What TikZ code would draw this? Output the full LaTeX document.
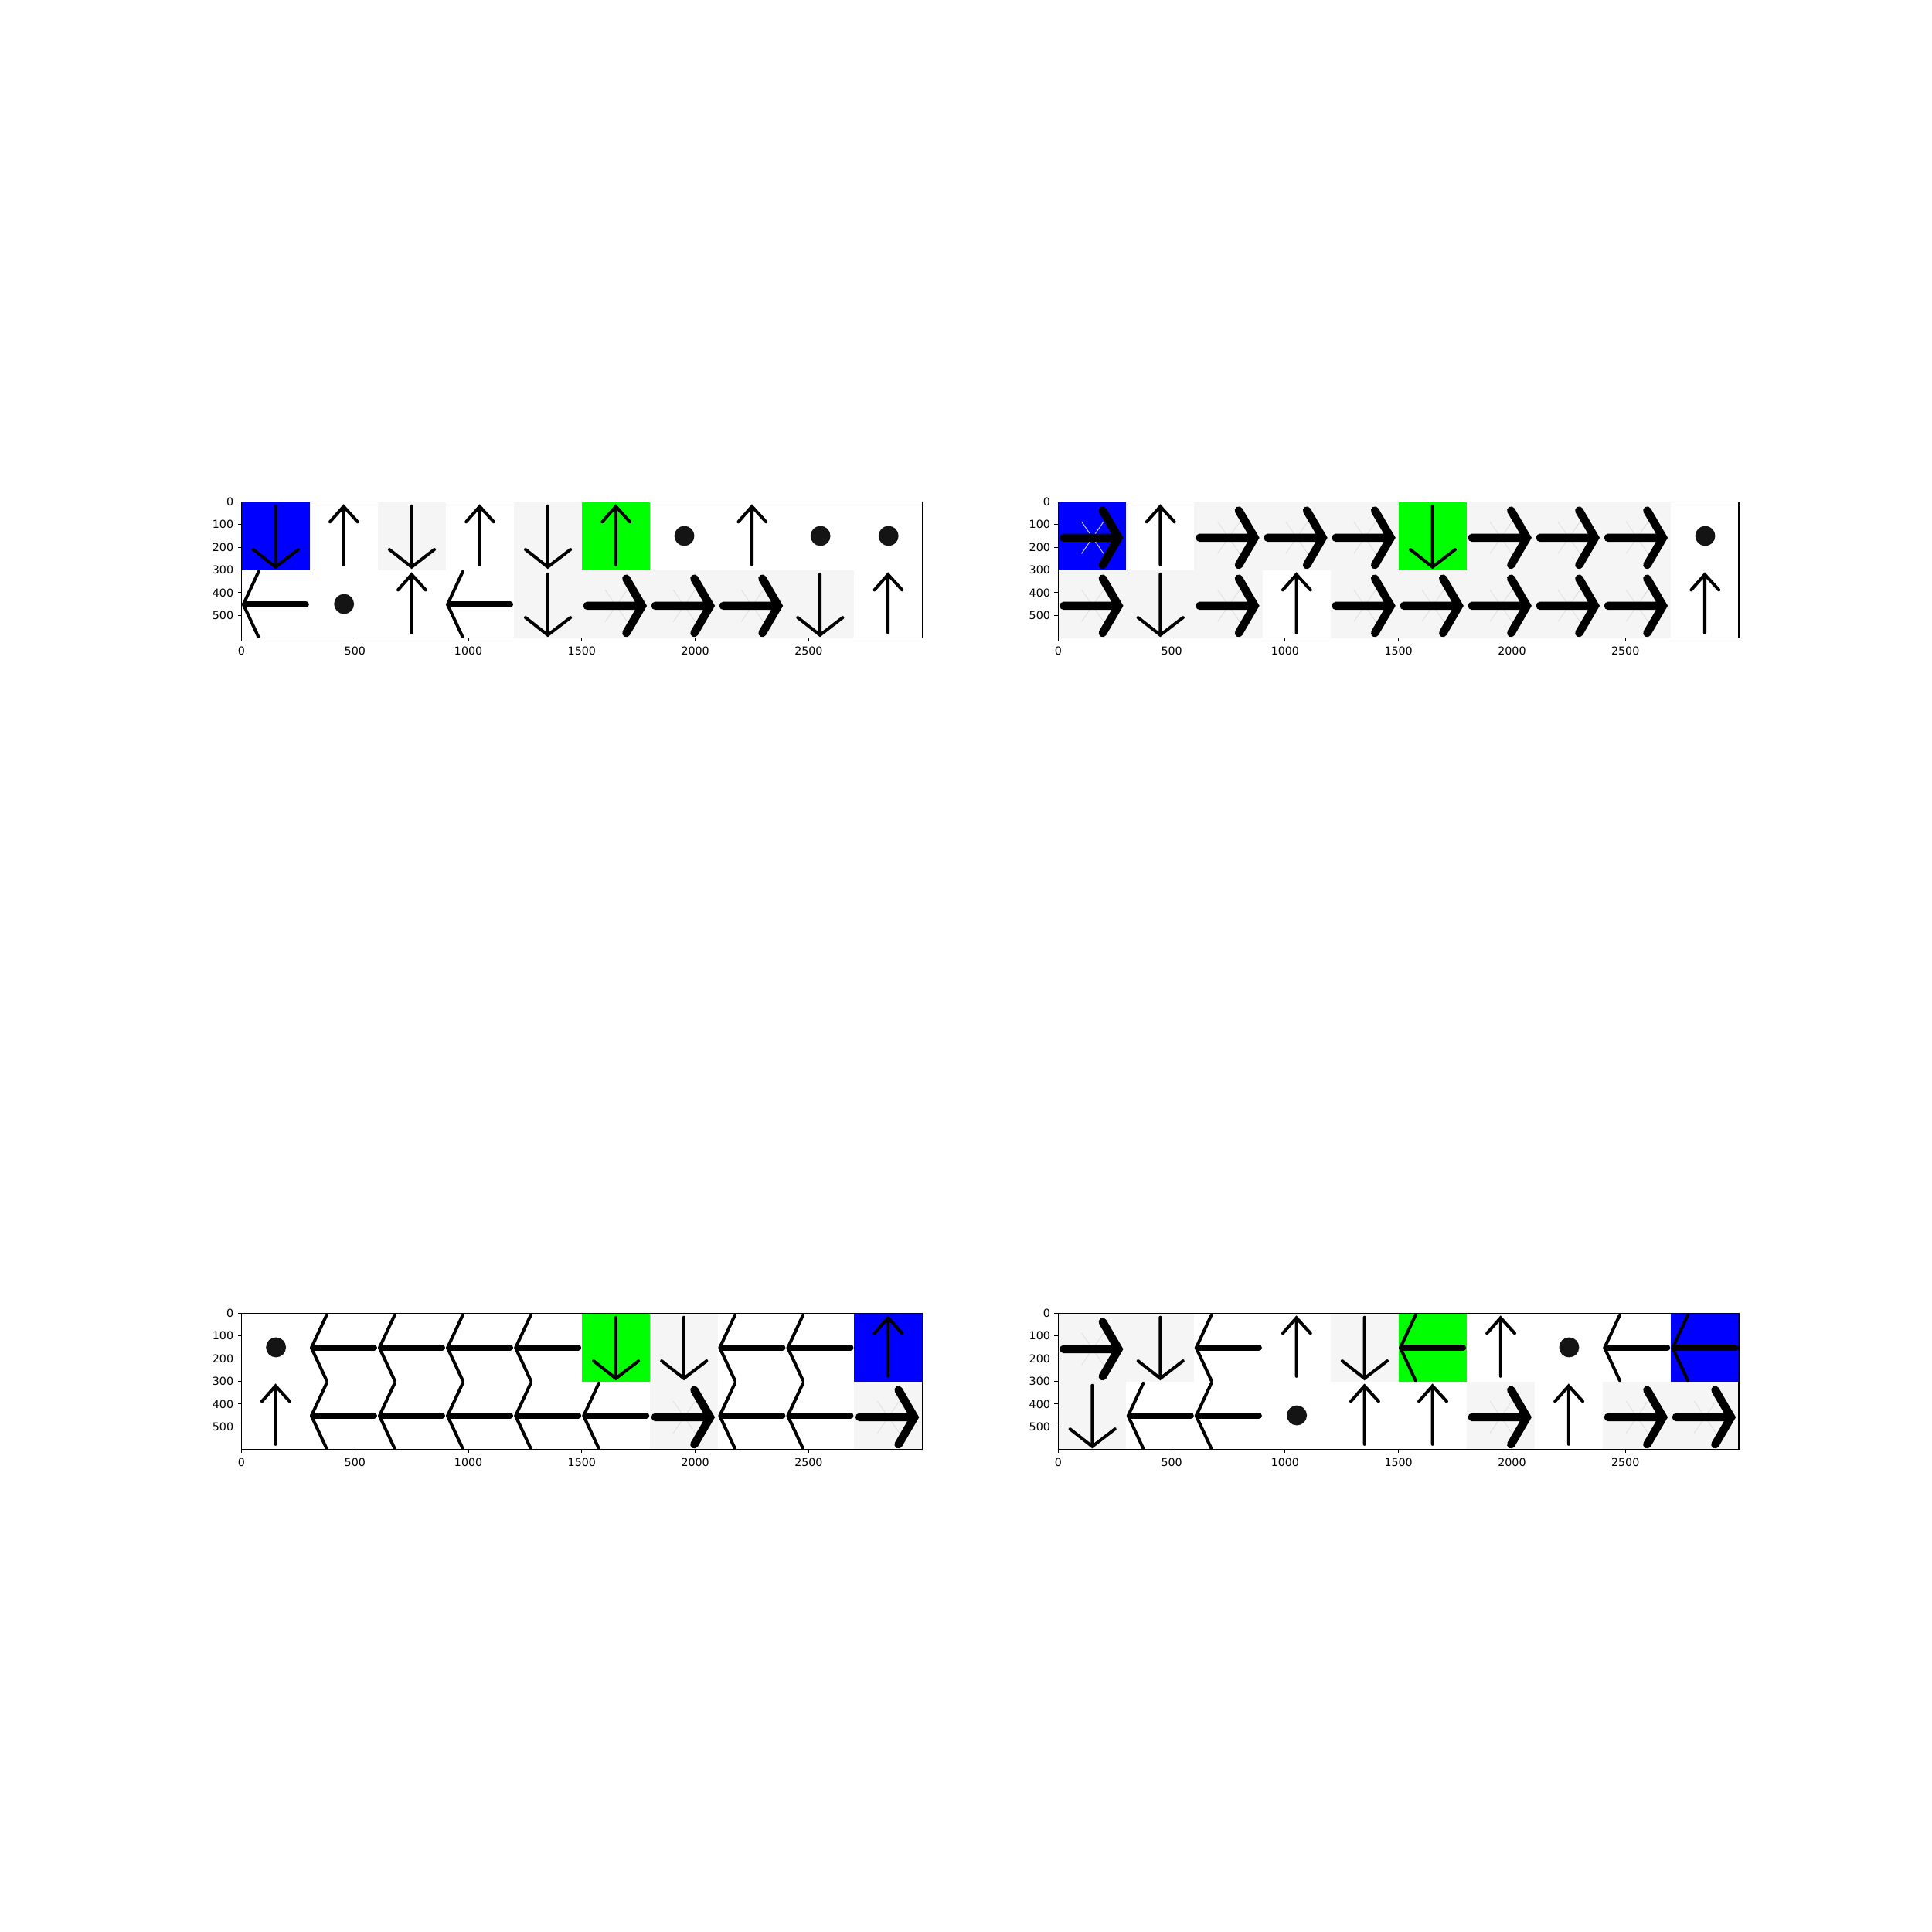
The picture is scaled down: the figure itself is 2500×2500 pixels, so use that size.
\documentclass[tikz,border=0pt]{standalone}
\usepackage{fontspec}
\setmainfont{DejaVu Sans}

\definecolor{cellgray}{RGB}{245,245,245}
\definecolor{dotgray}{RGB}{20,20,20}
\definecolor{ghostcellgray}{RGB}{226,226,226}
\definecolor{ghostblue}{RGB}{205,205,255}
\definecolor{ghostwhite}{RGB}{235,235,235}
\definecolor{ghostgreen}{RGB}{200,255,200}

\newcommand{\ticksfont}{\fontsize{4.05}{4.8}\selectfont}

\tikzset{
 thinarrow/.style={line width=1.15pt, line cap=round, line join=miter},
 leftshaft/.style={line width=2.3pt, line cap=round},
 leftarm/.style={line width=1.15pt, line cap=round, line join=round},
 rightarrow/.style={line width=3pt, line cap=round, line join=miter},
 ghost/.style={line width=0.28pt},
 axisline/.style={line width=0.32pt},
 ticklab/.style={font=\ticksfont, inner sep=0pt},
}

% one cell is 300 x 300 data units
\newcommand{\glyphu}{\draw[thinarrow] (150,277) -- (150,24) (90,88) -- (150,20) -- (212,88);}
\newcommand{\glyphd}{\draw[thinarrow] (150,18) -- (150,283) (52,210) -- (150,287) -- (250,210);}
\newcommand{\glyphl}{\draw[leftshaft] (16,152) -- (284,152);
 \draw[leftarm] (75,8) -- (8,152) -- (75,296);}
\newcommand{\glyphr}{\draw[ghost, draw=ghost\bg] (103,87) -- (200,228) (200,87) -- (103,228);
 \draw[rightarrow] (24,158) -- (262,158) (196,38) -- (266,158) -- (196,278);}
\newcommand{\glypho}{\fill[dotgray] (152,150) circle[radius=44];}

\newcommand{\cellbg}{\fill[\bg] (0,0) rectangle (300,300);}
\newcommand{\cellglyph}{\csname glyph\k\endcsname}

% #1 row, #2 list of kind/background, #3 bg or glyph
\newcommand{\cellrow}[3]{%
 \foreach \k/\bg [count=\c from 0] in {#2}{
  \begin{scope}[shift={(\c*300,#1*300)}]
   \csname cell#3\endcsname
  \end{scope}}}

% #1 name, #2 top row, #3 bottom row
\newcommand{\drawpanel}[3]{%
 \begin{scope}[shift={(\xoffset,\yoffset)}, x=0.029357mm, y=-0.029357mm]
  \begin{scope}
   \clip (0,0) rectangle (3000,600);
   \cellrow{0}{#2}{bg}
   \cellrow{1}{#3}{bg}
   \cellrow{0}{#2}{glyph}
   \cellrow{1}{#3}{glyph}
  \end{scope}
  \draw[axisline] (0,0) rectangle (3000,600);
  \foreach \t in {0,500,...,2500}{
   \draw[axisline] (\t,600) -- (\t,616.6);
   \node[ticklab, anchor=north] (#1x\t) at (\t,635.4) {\t};}
  \foreach \t in {0,100,...,500}{
   \draw[axisline] (0,\t) -- (-16.6,\t);
   \node[ticklab, anchor=east] (#1y\t) at (-33.1,\t) {\t};}
 \end{scope}}

\begin{document}
\begin{tikzpicture}[x=0.1mm, y=-0.1mm]
\useasboundingbox (0,0) rectangle (2500,2500);

% top left
\def\xoffset{312.5}
\def\yoffset{649.43}
\drawpanel{a}{d/blue,u/white,d/cellgray,u/white,d/cellgray,u/green,o/white,u/white,o/white,o/white}
 {l/white,o/white,u/white,l/white,d/cellgray,r/cellgray,r/cellgray,r/cellgray,d/cellgray,u/white}

% top right
\def\xoffset{1369.32}
\drawpanel{b}{r/blue,u/white,r/cellgray,r/cellgray,r/cellgray,d/green,r/cellgray,r/cellgray,r/cellgray,o/white}
 {r/cellgray,d/cellgray,r/cellgray,u/white,r/cellgray,r/cellgray,r/cellgray,r/cellgray,r/cellgray,u/white}

% bottom left
\def\xoffset{312.5}
\def\yoffset{1699.43}
\drawpanel{c}{o/white,l/white,l/white,l/white,l/white,d/green,d/cellgray,l/white,l/white,u/blue}
 {u/white,l/white,l/white,l/white,l/white,l/white,r/cellgray,l/white,l/white,r/cellgray}

% bottom right
\def\xoffset{1369.32}
\drawpanel{d}{r/cellgray,d/cellgray,l/white,u/white,d/cellgray,l/green,u/white,o/white,l/white,l/blue}
 {d/cellgray,l/white,l/white,o/white,u/white,u/white,r/cellgray,u/white,r/cellgray,r/cellgray}

\end{tikzpicture}
\end{document}
